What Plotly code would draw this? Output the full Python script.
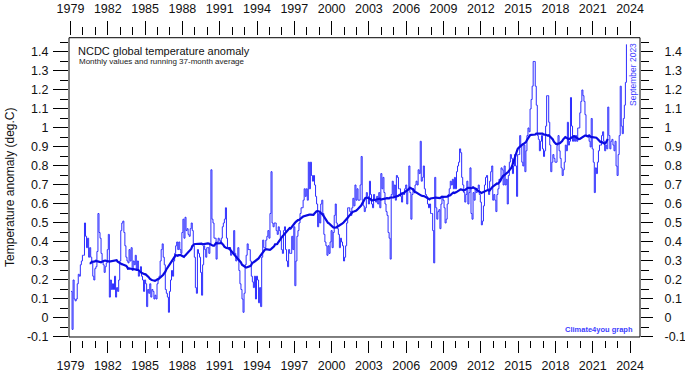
import plotly.graph_objects as go
import pandas as pd

# Monthly NCDC global temperature anomaly (deg C), Jan 1979 - Sep 2023
anom_1979_1988 = [
    0.14, -0.06, 0.20, 0.10, 0.09, 0.10, 0.18, 0.23, 0.22, 0.28, 0.30, 0.33,
    0.33, 0.50, 0.43, 0.37, 0.42, 0.32, 0.37, 0.32, 0.29, 0.22, 0.20, 0.26,
    0.27, 0.35, 0.55, 0.45, 0.42, 0.34, 0.30, 0.28, 0.24, 0.27, 0.29, 0.36,
    0.44, 0.11, 0.20, 0.15, 0.18, 0.15, 0.22, 0.11, 0.16, 0.14, 0.20, 0.30,
    0.46, 0.50, 0.51, 0.45, 0.38, 0.32, 0.30, 0.29, 0.36, 0.30, 0.37, 0.25,
    0.30, 0.28, 0.33, 0.25, 0.30, 0.22, 0.25, 0.27, 0.22, 0.20, 0.14, 0.20,
    0.18, 0.06, 0.15, 0.13, 0.18, 0.11, 0.15, 0.14, 0.10, 0.12, 0.10, 0.18,
    0.20, 0.22, 0.30, 0.36, 0.39, 0.32, 0.28, 0.15, 0.13, 0.11, 0.03, 0.14,
    0.20, 0.25, 0.22, 0.30, 0.34, 0.38, 0.40, 0.36, 0.40, 0.36, 0.34, 0.45,
    0.52, 0.42, 0.53, 0.46, 0.47, 0.44, 0.43, 0.47, 0.50, 0.46, 0.38, 0.32,
]
anom_1989_1998 = [
    0.16, 0.13, 0.36, 0.34, 0.32, 0.24, 0.12, 0.28, 0.38, 0.36, 0.32, 0.37,
    0.37, 0.34, 0.39, 0.78, 0.52, 0.50, 0.42, 0.42, 0.31, 0.40, 0.42, 0.41,
    0.40, 0.42, 0.48, 0.50, 0.52, 0.58, 0.42, 0.37, 0.36, 0.37, 0.33, 0.34,
    0.34, 0.46, 0.34, 0.30, 0.32, 0.37, 0.25, 0.18, 0.15, 0.10, 0.03, 0.13,
    0.28, 0.33, 0.39, 0.36, 0.36, 0.30, 0.22, 0.19, 0.16, 0.22, 0.10, 0.22,
    0.20, 0.08, 0.16, 0.06, 0.32, 0.41, 0.37, 0.37, 0.41, 0.43, 0.46, 0.42,
    0.55, 0.77, 0.50, 0.48, 0.50, 0.50, 0.46, 0.44, 0.48, 0.46, 0.42, 0.36,
    0.34, 0.46, 0.48, 0.36, 0.30, 0.27, 0.36, 0.34, 0.34, 0.43, 0.36, 0.48,
    0.17, 0.30, 0.43, 0.46, 0.50, 0.55, 0.58, 0.58, 0.62, 0.68, 0.64, 0.68,
    0.62, 0.82, 0.68, 0.82, 0.75, 0.72, 0.75, 0.70, 0.64, 0.60, 0.48, 0.55,
]
anom_1999_2008 = [
    0.50, 0.60, 0.62, 0.55, 0.44, 0.40, 0.38, 0.33, 0.38, 0.34, 0.40, 0.46,
    0.37, 0.45, 0.54, 0.60, 0.50, 0.47, 0.44, 0.37, 0.42, 0.40, 0.38, 0.30,
    0.32, 0.38, 0.50, 0.58, 0.58, 0.56, 0.54, 0.58, 0.63, 0.59, 0.70, 0.62,
    0.68, 0.62, 0.62, 0.70, 0.85, 0.62, 0.59, 0.56, 0.58, 0.66, 0.64, 0.60,
    0.72, 0.65, 0.60, 0.58, 0.65, 0.62, 0.61, 0.64, 0.60, 0.66, 0.58, 0.76,
    0.68, 0.74, 0.66, 0.60, 0.56, 0.54, 0.45, 0.42, 0.31, 0.65, 0.72, 0.64,
    0.70, 0.62, 0.75, 0.74, 0.68, 0.68, 0.64, 0.61, 0.66, 0.65, 0.68, 0.70,
    0.60, 0.68, 0.80, 0.66, 0.52, 0.65, 0.68, 0.66, 0.70, 0.72, 0.70, 0.78,
    0.76, 0.93, 0.72, 0.74, 0.80, 0.68, 0.65, 0.64, 0.60, 0.58, 0.60, 0.55,
    0.55, 0.46, 0.29, 0.74, 0.58, 0.52, 0.56, 0.57, 0.47, 0.60, 0.64, 0.62,
]
anom_2009_2018 = [
    0.58, 0.50, 0.52, 0.60, 0.65, 0.68, 0.72, 0.70, 0.73, 0.68, 0.74, 0.68,
    0.77, 0.80, 0.82, 0.89, 0.87, 0.74, 0.70, 0.66, 0.61, 0.65, 0.72, 0.60,
    0.66, 0.79, 0.55, 0.52, 0.66, 0.62, 0.68, 0.66, 0.68, 0.70, 0.65, 0.61,
    0.49, 0.51, 0.59, 0.70, 0.74, 0.75, 0.68, 0.65, 0.72, 0.77, 0.80, 0.62,
    0.65, 0.62, 0.56, 0.65, 0.68, 0.73, 0.72, 0.79, 0.78, 0.70, 0.80, 0.70,
    0.73, 0.60, 0.75, 0.82, 0.86, 0.84, 0.76, 0.80, 0.86, 0.80, 0.64, 0.86,
    0.86, 0.96, 0.91, 0.82, 0.80, 0.91, 0.77, 0.88, 0.96, 1.00, 0.98, 1.10,
    1.15, 1.22, 1.35, 1.35, 1.22, 1.12, 0.96, 0.94, 0.88, 0.93, 0.96, 0.89,
    0.85, 0.88, 1.01, 1.17, 1.17, 1.03, 0.91, 0.77, 0.82, 0.86, 0.84, 0.82,
    0.82, 0.91, 0.96, 0.88, 0.84, 0.79, 0.75, 0.78, 0.82, 0.91, 0.88, 1.03,
]
anom_2019_2023 = [
    0.91, 0.93, 1.16, 1.01, 0.93, 0.96, 0.93, 0.96, 0.93, 1.00, 1.00, 1.08,
    1.14, 1.20, 1.17, 1.14, 1.07, 0.96, 0.96, 0.96, 0.93, 0.90, 1.05, 0.89,
    0.82, 0.66, 0.79, 0.76, 0.82, 0.88, 0.91, 0.91, 0.96, 0.98, 0.93, 0.88,
    0.91, 0.89, 1.11, 0.96, 0.89, 0.93, 0.94, 0.91, 0.88, 0.93, 0.80, 0.75,
    0.86, 0.96, 1.22, 1.01, 0.97, 1.05, 1.12, 1.24, 1.44,
]

start_year = 1979
year_ticks = list(range(1979, 2025, 3))
minor_year_ticks = list(range(1979, 2025))
y_ticks = [round(-0.1 + 0.1 * i, 1) for i in range(16)]
y_tick_text = ["-0.1", "0"] + [("%g" % v) for v in y_ticks[2:]]
y_minor_ticks = [round(-0.1 + 0.05 * i, 2) for i in range(32)]

monthly = anom_1979_1988 + anom_1989_1998 + anom_1999_2008 + anom_2009_2018 + anom_2019_2023
t = [start_year + (i + 0.5) / 12.0 for i in range(len(monthly))]
avg37 = pd.Series(monthly).rolling(37, center=True).mean().tolist()

FONT = "Arial, 'Liberation Sans', sans-serif"
BLUE_M = "rgb(45,45,255)"
BLUE_A = "rgb(10,10,225)"

fig = go.Figure()
fig.add_trace(go.Scatter(x=t, y=monthly, mode="lines", line=dict(color=BLUE_M, width=1, shape="hv"),
                         showlegend=False, hoverinfo="skip"))
fig.add_trace(go.Scatter(x=t, y=avg37, mode="lines", line=dict(color=BLUE_A, width=2.2),
                         showlegend=False, hoverinfo="skip", connectgaps=False))

xr = [1978.88, 2024.8]
yr = [-0.1, 1.475]

fig.update_layout(
    width=685, height=374,
    margin=dict(l=68.5, r=45, t=35, b=34, pad=0, autoexpand=False),
    paper_bgcolor="white", plot_bgcolor="white",
    font=dict(family=FONT, size=12, color="#111"),
    showlegend=False,
    xaxis=dict(range=xr, anchor="free", position=0, side="bottom", automargin=False,
               showgrid=False, zeroline=False, showline=False,
               tickmode="array", tickvals=year_ticks, ticks="outside", ticklen=12,
               tickwidth=1, tickcolor="black", tickfont=dict(size=12.5),
               ticklabelstandoff=2,
               minor=dict(tickmode="array", tickvals=minor_year_ticks, ticks="outside",
                          ticklen=7, tickwidth=1, tickcolor="black")),
    xaxis2=dict(range=xr, overlaying="x", anchor="free", position=1, side="top",
                automargin=False,
                showgrid=False, zeroline=False, showline=False,
                tickmode="array", tickvals=year_ticks, ticks="outside", ticklen=14,
                tickwidth=1, tickcolor="black", tickfont=dict(size=12.5),
                ticklabelstandoff=3,
                minor=dict(tickmode="array", tickvals=minor_year_ticks, ticks="outside",
                           ticklen=8, tickwidth=1, tickcolor="black")),
    yaxis=dict(range=yr, domain=[0.00984, 0.9911], showgrid=False, zeroline=False,
               automargin=False,
               showline=False, tickmode="array", tickvals=y_ticks, ticktext=y_tick_text,
               ticks="outside", ticklen=15, tickwidth=1, tickcolor="black",
               tickfont=dict(size=12.5), ticklabelstandoff=2,
               minor=dict(tickmode="array", tickvals=y_minor_ticks, ticks="outside",
                          ticklen=8, tickwidth=1, tickcolor="black")),
    yaxis2=dict(range=yr, overlaying="y", side="right", anchor="x", showgrid=False,
                automargin=False,
                zeroline=False, showline=False, tickmode="array", tickvals=y_ticks,
                ticktext=y_tick_text, ticks="outside", ticklen=12, tickwidth=1,
                tickcolor="black", tickfont=dict(size=12.5), ticklabelstandoff=9,
                minor=dict(tickmode="array", tickvals=y_minor_ticks, ticks="outside",
                           ticklen=8, tickwidth=1, tickcolor="black")),
)

# invisible traces so the secondary axes are drawn
fig.add_trace(go.Scatter(x=[xr[0]], y=[None], xaxis="x2", yaxis="y", showlegend=False,
                         hoverinfo="skip", mode="lines"))
fig.add_trace(go.Scatter(x=[xr[0]], y=[None], xaxis="x", yaxis="y2", showlegend=False,
                         hoverinfo="skip", mode="lines"))

fig.add_shape(type="rect", xref="x domain", yref="y domain", x0=0, x1=1, y0=0, y1=1,
              line=dict(color="black", width=1), fillcolor="rgba(0,0,0,0)", layer="above")

PL, PR, PT, PH = 68.5, 640.0, 37.7, 299.3
def px_x(p):
    return (p - PL) / (PR - PL)
def px_y(p):
    return 1 - (p - PT) / PH

fig.add_annotation(text="NCDC global temperature anomaly", xref="paper", yref="y domain",
                   x=px_x(76), y=px_y(51), xanchor="left", yanchor="middle",
                   showarrow=False, font=dict(size=11, color="#111", family=FONT))
fig.add_annotation(text="Monthly values and running 37-month average", xref="paper",
                   yref="y domain", x=px_x(76.5), y=px_y(61),
                   xanchor="left", yanchor="middle", showarrow=False,
                   font=dict(size=8, color="#222", family=FONT))
fig.add_annotation(text="September 2023", xref="paper", yref="y domain",
                   x=px_x(633), y=px_y(75), textangle=-90,
                   xanchor="center", yanchor="middle", showarrow=False,
                   font=dict(size=8.5, color="rgb(60,60,255)", family=FONT))
fig.add_annotation(text="<b>Climate4you graph</b>", xref="paper", yref="y domain",
                   x=px_x(635), y=px_y(330), xanchor="right",
                   yanchor="middle", showarrow=False,
                   font=dict(size=7.5, color="rgb(60,60,255)", family=FONT))
fig.add_annotation(text="Temperature anomaly (deg.C)", xref="paper", yref="y domain",
                   x=px_x(10), y=0.5, textangle=-90, xanchor="center", yanchor="middle",
                   showarrow=False, font=dict(size=12, color="#111", family=FONT))

fig.write_html("out.html", config={"displayModeBar": False},
               post_script="document.body.style.margin='0';document.body.style.padding='0';")
